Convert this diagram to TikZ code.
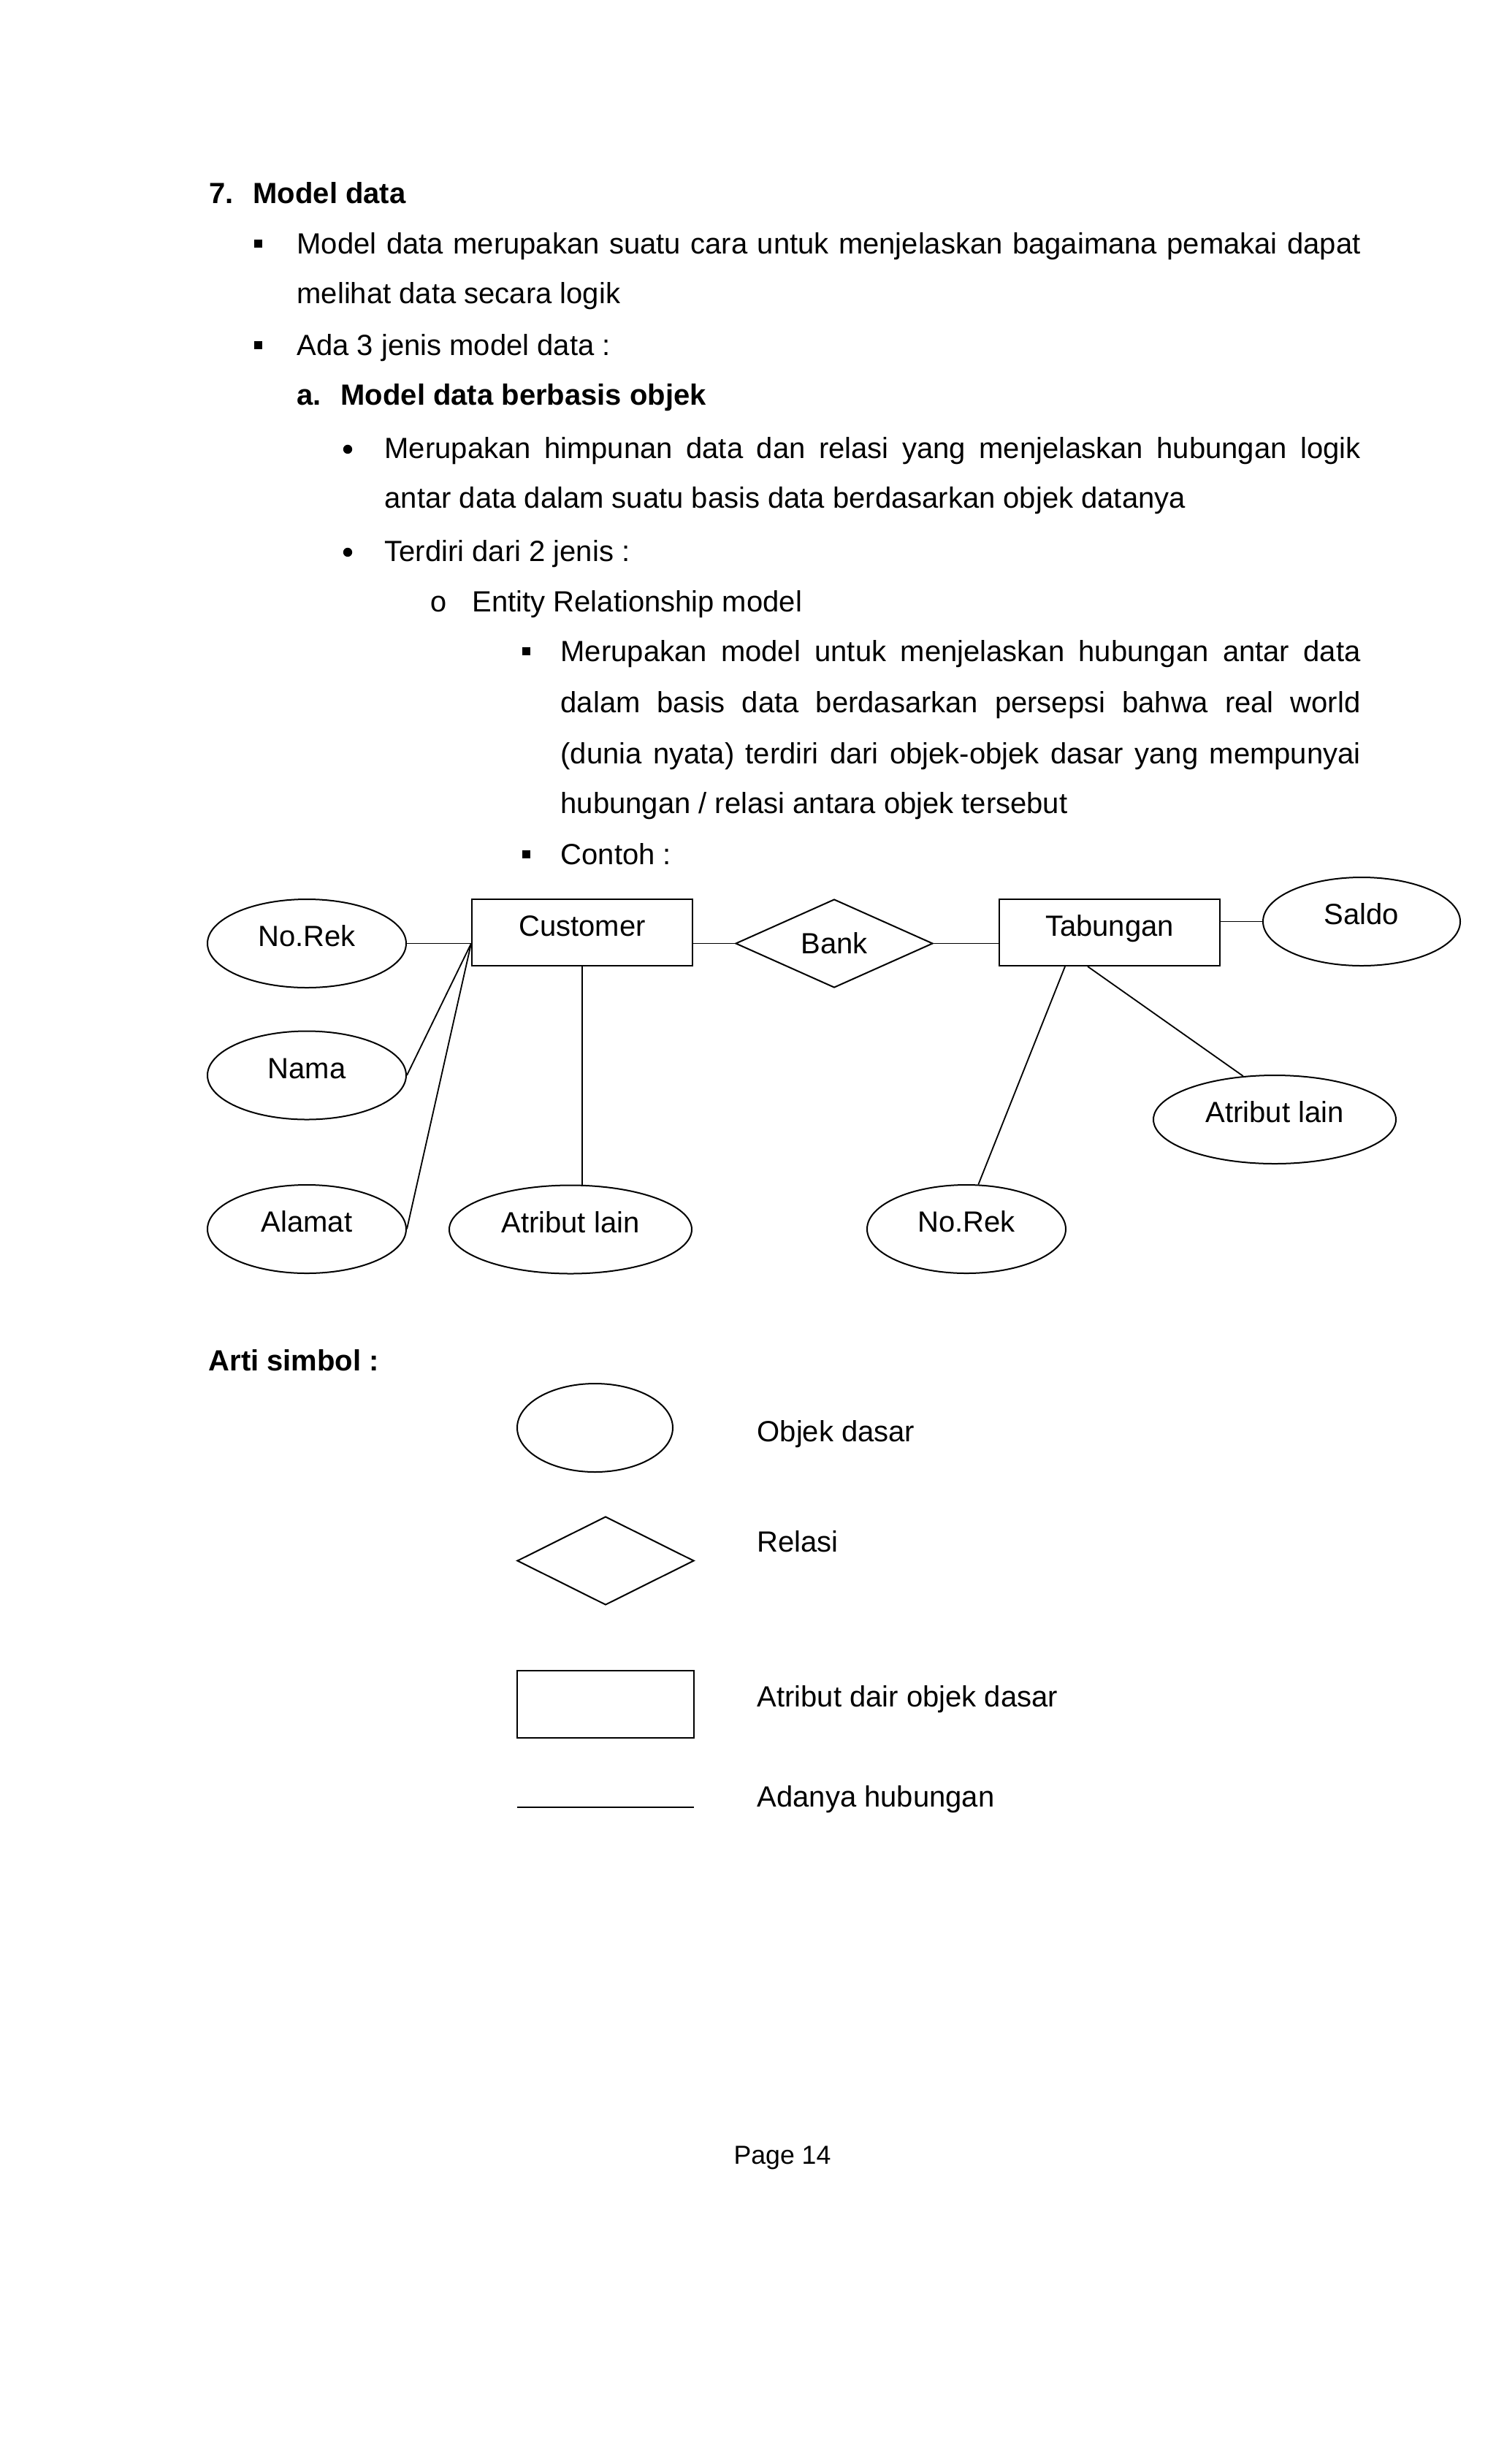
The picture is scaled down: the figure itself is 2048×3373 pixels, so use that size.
\documentclass[tikz,border=0pt]{standalone}
\usepackage{fontspec}
\setmainfont{Liberation Sans}
\newfontfamily\monof{Liberation Mono}
\usetikzlibrary{shapes.geometric}
\begin{document}
\begin{tikzpicture}[x=0.3pt,y=-0.3pt,
  every node/.style={font=\fontsize{12}{14.4}\selectfont},
  txt/.style={anchor=base west, inner sep=0pt},
  boldtxt/.style={anchor=base west, inner sep=0pt, font=\fontsize{12}{14.4}\selectfont\bfseries},
  sq/.style={rectangle, fill=black, draw=none, inner sep=0pt, minimum size=3.3pt},
  dotb/.style={circle, fill=black, draw=none, inner sep=0pt, minimum size=3.7pt},
  obul/.style={anchor=base, inner sep=0pt, font=\fontsize{12}{14.4}\monof},
  attr/.style={ellipse, draw, line width=0.6pt, inner sep=0pt, minimum width=81.6pt, minimum height=36.3pt, text height=9pt, text depth=6.4pt},
  entity/.style={rectangle, draw, line width=0.6pt, inner sep=0pt, minimum width=90.6pt, minimum height=27.3pt, text height=9pt, text depth=6.2pt},
  rel/.style={diamond, draw, line width=0.6pt, inner sep=0pt, minimum width=81pt, minimum height=36.3pt},
  conn/.style={line width=0.55pt}
]
\useasboundingbox (0,0) rectangle (2048,3373);

% ---------- text block ----------
\node[boldtxt] (n7) at (286,278) {7.};
\node[boldtxt] (h7) at (346,278) {Model data};

\node[sq] (b1) at (353.5,333) {};
\node[txt] (t1) at (406,347) {\makebox[436.8pt][s]{Model data merupakan suatu cara untuk menjelaskan bagaimana pemakai dapat}};
\node[txt] (t2) at (406,415) {melihat data secara logik};

\node[sq] (b2) at (353.5,472) {};
\node[txt] (t3) at (406,486) {Ada 3 jenis model data :};

\node[boldtxt] (na) at (406,554) {a.};
\node[boldtxt] (ha) at (466,554) {Model data berbasis objek};

\node[dotb] (b3) at (476,615) {};
\node[txt] (t4) at (526,627) {\makebox[400.8pt][s]{Merupakan himpunan data dan relasi yang menjelaskan hubungan logik}};
\node[txt] (t5) at (526,695) {antar data dalam suatu basis data berdasarkan objek datanya};

\node[dotb] (b4) at (476,756) {};
\node[txt] (t6) at (526,768) {Terdiri dari 2 jenis :};

\node[obul] (b5) at (600,837) {o};
\node[txt] (t7) at (646,837) {Entity Relationship model};

\node[sq] (b6) at (720,891) {};
\node[txt] (t8) at (767,905) {\makebox[328.5pt][s]{Merupakan model untuk menjelaskan hubungan antar data}};
\node[txt] (t9) at (767,975) {\makebox[328.5pt][s]{dalam basis data berdasarkan persepsi bahwa real world}};
\node[txt] (t10) at (767,1045) {\makebox[328.5pt][s]{(dunia nyata) terdiri dari objek-objek dasar yang mempunyai}};
\node[txt] (t11) at (767,1113) {hubungan / relasi antara objek tersebut};

\node[sq] (b7) at (720,1169) {};
\node[txt] (t12) at (767,1183) {Contoh :};

% ---------- ER diagram ----------
\node[attr] (nr1) at (420,1291.5) {No.Rek};
\node[attr] (nama) at (420,1472) {Nama};
\node[attr] (alamat) at (420,1682.5) {Alamat};
\node[attr, minimum width=99.6pt] (atr1) at (781,1683) {Atribut lain};
\node[entity] (cust) at (797,1276.5) {Customer};
\node[rel] (bank) at (1142,1291.5) {Bank};
\node[entity] (tab) at (1519,1276.5) {Tabungan};
\node[attr, minimum width=81pt] (saldo) at (1864,1261.5) {Saldo};
\node[attr, minimum width=99.6pt] (atr2) at (1745,1532.5) {Atribut lain};
\node[attr] (nr2) at (1323,1682.5) {No.Rek};

\coordinate (custL) at (cust.west |- nr1.center);
\coordinate (tabS1) at ([xshift=-18.3pt]tab.south);
\coordinate (tabS2) at ([xshift=-9pt]tab.south);

\draw[conn] (nr1.east) -- (custL);
\draw[conn] (nama.east) -- (custL);
\draw[conn] (alamat.east) -- (custL);
\draw[conn] (cust.south) -- (cust.south |- atr1.north);
\draw[conn] (cust.east |- bank.west) -- (bank.west);
\draw[conn] (bank.east) -- (tab.west |- bank.east);
\draw[conn] (tab.east |- saldo.west) -- (saldo.west);
\draw[conn] (tabS1) -- (nr2.75);
\draw[conn] (tabS2) -- (atr2.126);

% ---------- legend ----------
\node[boldtxt] (arti) at (285,1876) {Arti simbol :};
\node[attr, minimum width=63.9pt] (lE) at (814.5,1954.5) {};
\node[txt] (lEt) at (1036,1973) {Objek dasar};
\node[rel, minimum width=72.6pt] (lD) at (829,2136.5) {};
\node[txt] (lDt) at (1036,2124) {Relasi};
\node[entity, minimum width=72.6pt, minimum height=27.6pt] (lR) at (829,2333) {};
\node[txt] (lRt) at (1036,2336) {Atribut dair objek dasar};
\coordinate (lL1) at (708,2474);
\coordinate (lL2) at (950,2474);
\draw[conn] (lL1) -- (lL2);
\node[txt] (lLt) at (1036,2473) {Adanya hubungan};

\node[anchor=base, inner sep=0pt, font=\fontsize{10.7}{13}\selectfont] (pg) at (1071,2962) {Page 14};
\end{tikzpicture}
\end{document}
